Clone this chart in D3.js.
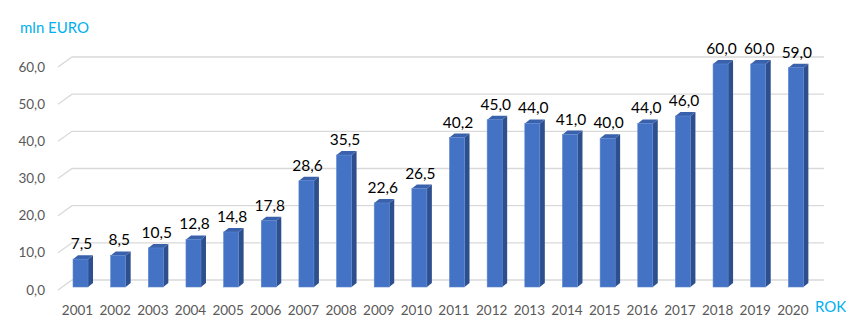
<!DOCTYPE html>
<html><head><meta charset="utf-8">
<script src="https://cdn.jsdelivr.net/npm/d3@7"></script>
<style>body{margin:0;background:#fff}svg{display:block}</style>
</head><body>
<script>
const years = ["2001","2002","2003","2004","2005","2006","2007","2008","2009","2010","2011","2012","2013","2014","2015","2016","2017","2018","2019","2020"];
const values = [7.5,8.5,10.5,12.8,14.8,17.8,28.6,35.5,22.6,26.5,40.2,45.0,44.0,41.0,40.0,44.0,46.0,60.0,60.0,59.0];
const yTicks = [0,10,20,30,40,50,60];
const yTitle = "mln EURO";
const xTitle = "ROK";

const W = 846, H = 334;
const svg = d3.select("body").append("svg").attr("width", W).attr("height", H);
const font = "Lato, 'Open Sans', sans-serif";
const fmt = v => v.toFixed(1).replace(".", ",");

const yFront = d3.scaleLinear().domain([0,60]).range([290, 67]);
const wallDx = 14, wallDy = -10;
const barBackShift = 3;
const x = d3.scaleBand().domain(years).range([61.7, 814.7]).paddingInner(0.6).paddingOuter(0.3);

const g = svg.append("g");
yTicks.forEach(t => {
  const yb = yFront(t) + wallDy;
  g.append("path")
    .attr("d", `M58,${yFront(t)} L${58+wallDx},${yb} L824,${yb}`)
    .attr("fill","none").attr("stroke","#d9d9d9").attr("stroke-width",1.3);
});

svg.append("g").selectAll("text").data(yTicks).join("text")
  .attr("x", 45).attr("y", d => yFront(d) + 4.5)
  .attr("text-anchor","end").attr("font-family",font).attr("font-size",13.5)
  .attr("fill","#595959").text(d => fmt(d));

const bw = 15, sd = 5, sdy = -4;
const bars = svg.append("g");
const yb0 = yFront(0) - barBackShift;
const k = (yFront(0) - yFront(1));
years.forEach((yr, i) => {
  const v = values[i];
  const cx = x(yr) + x.bandwidth()/2;
  const x0 = cx - bw/2, x1 = cx + bw/2;
  const yt = yb0 - v*k;
  bars.append("path").attr("d",`M${x1},${yb0} L${x1+sd},${yb0+sdy} L${x1+sd},${yt+sdy} L${x1},${yt} Z`).attr("fill","#2E4F8E");
  bars.append("path").attr("d",`M${x0},${yt} L${x0+sd},${yt+sdy} L${x1+sd},${yt+sdy} L${x1},${yt} Z`).attr("fill","#3A62AC");
  bars.append("rect").attr("x",x0).attr("y",yt).attr("width",bw).attr("height",yb0-yt)
    .attr("fill","#4472C4").attr("stroke","#5B86D0").attr("stroke-width",0.6);
  bars.append("text").attr("x",cx+1).attr("y",yt - 10).attr("text-anchor","middle")
    .attr("font-family",font).attr("font-size",15.5).attr("fill","#000").text(fmt(v));
  bars.append("text").attr("x",cx-3).attr("y",315).attr("text-anchor","middle")
    .attr("font-family",font).attr("font-size",13.5).attr("fill","#595959").text(yr);
});

svg.append("text").attr("x",20).attr("y",33).attr("font-family",font).attr("font-size",15)
  .attr("fill","#00B0F0").text(yTitle);
svg.append("text").attr("x",815).attr("y",312).attr("font-family",font).attr("font-size",15)
  .attr("fill","#00B0F0").text(xTitle);
</script>
</body></html>
